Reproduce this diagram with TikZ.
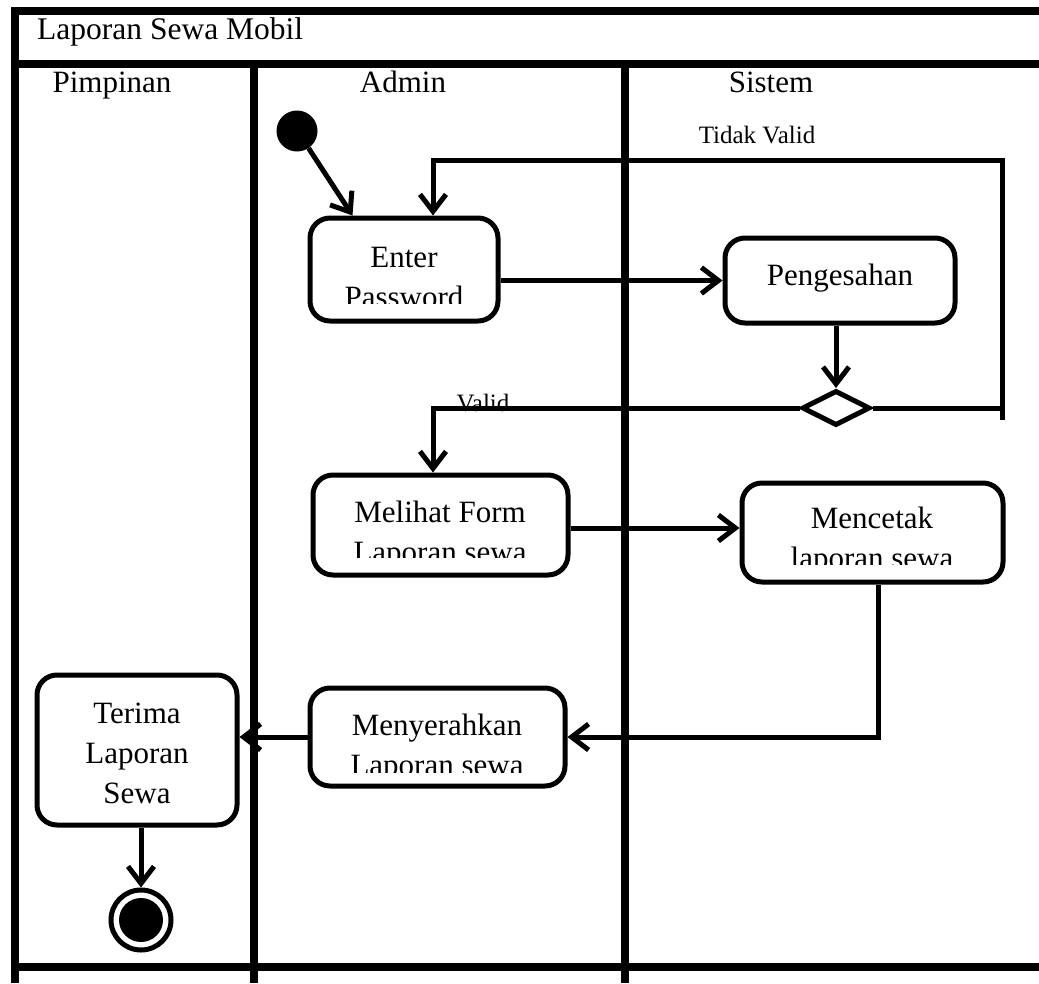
\documentclass[tikz,border=0pt]{standalone}
\usepackage{fontspec}
\setmainfont{Liberation Serif}
\usetikzlibrary{arrows.meta,shapes.geometric,calc}

\tikzset{
  lane/.style={line width=8pt},
  actbox/.style={draw, line width=5pt, rounded corners=20pt, fill=white, inner sep=0pt},
  flow/.style={line width=5pt, -{Straight Barb[length=17pt,width=26pt,line width=5pt]}},
  plain/.style={line width=5pt},
  big/.style={font=\fontsize{31}{40}\selectfont, inner sep=0pt, anchor=base},
  small/.style={font=\fontsize{25}{30}\selectfont, inner sep=0pt, anchor=base},
}

\begin{document}
\begin{tikzpicture}[x=1pt,y=-1pt]
\useasboundingbox (0,0) rectangle (1039,983);

% swimlane frame
\draw[lane] (15,983) -- (15,11) -- (1039,11);
\draw[lane] (15,64) -- (1039,64);
\draw[lane] (254,64) -- (254,983);
\draw[lane] (625,64) -- (625,983);
\draw[lane] (15,967) -- (1039,967);

% title and lane headers
\node[big, anchor=base west, font=\fontsize{31.5}{36}\selectfont] (title) at (37,39) {Laporan Sewa Mobil};
\node[big] (hPimpinan) at (112,92) {Pimpinan};
\node[big] (hAdmin) at (403,92) {Admin};
\node[big] (hSistem) at (771,92) {Sistem};

% activity boxes
\node[actbox, minimum width=188pt, minimum height=103pt] (enter) at (404,269.5) {};
\node[actbox, minimum width=230pt, minimum height=85pt] (peng) at (840,280.5) {};
\node[actbox, minimum width=255pt, minimum height=100pt] (melihat) at (440.5,525) {};
\node[actbox, minimum width=261pt, minimum height=99pt] (cetak) at (872.5,532.5) {};
\node[actbox, minimum width=255pt, minimum height=98pt] (serah) at (437.5,737) {};
\node[actbox, minimum width=200pt, minimum height=150pt] (terima) at (137,750) {};

% decision, start and end
\node[draw, diamond, line width=5pt, fill=white, inner sep=0pt,
      minimum width=68pt, minimum height=35pt] (dia) at (836,408) {};
\node[circle, fill=black, inner sep=0pt, minimum size=41pt] (start) at (297,131) {};
\node[circle, draw, line width=5pt, fill=white, inner sep=0pt, minimum size=60pt] (end) at (141,920) {};
\node[circle, fill=black, inner sep=0pt, minimum size=44pt] (endcore) at (end.center) {};

% box texts (second lines cut off at the box text area)
\node[big] (tPeng) at (840,285) {Pengesahan};
\begin{scope}
  \clip (310,225) rectangle (498,303);
  \node[big] (tEnter1) at (404,267) {Enter};
  \node[big] (tEnter2) at (404,307) {Password};
\end{scope}
\begin{scope}
  \clip (313,480) rectangle (568,557);
  \node[big] (tMelihat1) at (440,522) {Melihat Form};
  \node[big] (tMelihat2) at (440,562) {Laporan sewa};
\end{scope}
\begin{scope}
  \clip (742,490) rectangle (1003,564);
  \node[big] (tCetak1) at (872,528) {Mencetak};
  \node[big] (tCetak2) at (872,568) {laporan sewa};
\end{scope}
\begin{scope}
  \clip (310,692) rectangle (565,772);
  \node[big] (tSerah1) at (437,735) {Menyerahkan};
  \node[big] (tSerah2) at (437,775) {Laporan sewa};
\end{scope}
\node[big] (tTerima1) at (137,723) {Terima};
\node[big] (tTerima2) at (137,763) {Laporan};
\node[big] (tTerima3) at (137,803) {Sewa};

% guard labels
\node[small] (lTidak) at (757,143) {Tidak Valid};
\node[small] (lValid) at (483,411) {Valid};

% connector corner points
\coordinate (tvLow) at (1002,420);
\coordinate (tvTop) at (1002,160);
\coordinate (enterIn) at ($(enter.north)+(29,0)$);
\coordinate (startIn) at ($(enter.north west)+(45,0)$);
\coordinate (melihatIn) at ($(melihat.north)+(-7.5,0)$);
\coordinate (melihatOut) at ($(melihat.east)+(0,3)$);
\coordinate (cetakOut) at ($(cetak.south)+(5.5,0)$);

% control flow
\draw[flow] (start.-56) -- (startIn);
\draw[flow] (enter.east |- peng.west) -- (peng.west);
\draw[flow] (dia.north |- peng.south) -- (dia.north);
\draw[plain] (dia.east) -- (dia.east -| tvTop);
\draw[flow] (tvLow) -- (tvTop) -| (enterIn);
\draw[flow] (dia.west) -| (melihatIn);
\draw[flow] (melihatOut) -- (melihatOut -| cetak.west);
\draw[flow] (cetakOut) |- (serah.east);
\draw[flow] (serah.west) -- (serah.west -| terima.east);
\draw[flow] (end.north |- terima.south) -- (end.north);
\end{tikzpicture}
\end{document}
